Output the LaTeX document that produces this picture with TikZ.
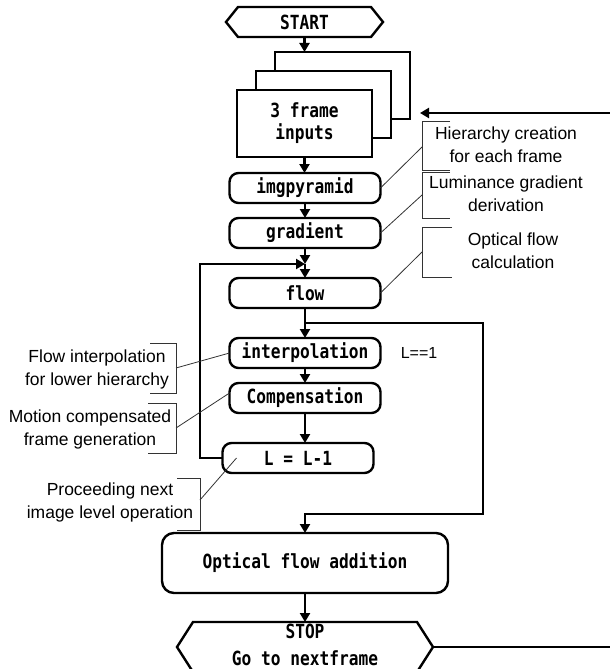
\documentclass[tikz,border=0pt]{standalone}
\usepackage{fontspec}
\setmainfont{Liberation Sans}
\newfontfamily\boxfont{DejaVu Sans Mono}[FakeStretch=0.83]
\usetikzlibrary{arrows.meta,calc}

\begin{document}
\begin{tikzpicture}[x=1pt,y=-1pt,
  flowline/.style={line width=2.4pt},
  arr/.style={flowline,-{Triangle[length=9pt,width=10pt]}},
  monotext/.style={font={\boxfont\bfseries\fontsize{19.5}{22}\selectfont},align=center,inner sep=0pt,outer sep=0pt},
  procbox/.style={monotext,draw,line width=2.4pt,rounded corners=9pt,minimum width=151pt,minimum height=30pt},
  framebox/.style={monotext,draw,fill=white,line width=2.4pt,minimum width=135pt,minimum height=67pt},
  note/.style={font={\fontsize{17.5}{23}\selectfont},align=center,inner sep=0pt},
  leader/.style={line width=0.8pt,black!80},
]
\useasboundingbox (0,0) rectangle (610,669);

% terminal: START
\node[monotext,minimum width=157pt,minimum height=30pt] (start) at (304.5,22) {START};
\draw[flowline] (start.west) -- ([xshift=12pt]start.north west) -- ([xshift=-12pt]start.north east)
  -- (start.east) -- ([xshift=-12pt]start.south east) -- ([xshift=12pt]start.south west) -- cycle;

% stacked input frames
\node[framebox] (back) at (342.5,85.5) {};
\node[framebox] (mid) at (323.5,104.5) {};
\node[framebox] (frames) at (304.5,123.5) {3 frame\\inputs};

% processing steps
\node[procbox] (imgpyr) at (305,188) {imgpyramid};
\node[procbox] (grad) at (305,233) {gradient};
\node[procbox] (flow) at (305,293) {flow};
\node[procbox] (interp) at (305,353) {interpolation};
\node[procbox] (comp) at (305,398) {Compensation};
\node[procbox] (lmin) at (298,458) {L = L-1};
\node[procbox,minimum width=286pt,minimum height=60pt,rounded corners=12pt] (add) at (305,563) {Optical flow addition};

% terminal: STOP (outline runs past the lower edge)
\node[minimum width=256pt,minimum height=50pt,inner sep=0pt,outer sep=0pt] (stop) at (305,647) {};
\draw[flowline] (stop.west) -- ([xshift=16pt]stop.north west) -- ([xshift=-16pt]stop.north east)
  -- (stop.east) -- ([xshift=-16pt]stop.south east) -- ([xshift=16pt]stop.south west) -- cycle;
\node[monotext,anchor=base] (stoptxt) at (305,638.5) {STOP};
\node[monotext,anchor=base] (nexttxt) at (305,665) {Go to nextframe};

% routing points
\coordinate (merge) at (305,264);
\coordinate (loopx) at (200,264);
\coordinate (split) at (305,323);
\coordinate (bend) at (483,323);
\coordinate (join) at (305,514);
\coordinate (edgelow) at (612,647);
\coordinate (edgetop) at (612,113);

% main flow
\draw[arr] (start.south) -- (start.south |- back.north);
\draw[arr] (frames.south) -- (frames.south |- imgpyr.north);
\draw[arr] (imgpyr) -- (grad);
\draw[arr] (grad) -- (merge);
\draw[arr] (merge) -- (flow);
\draw[arr] (flow) -- (interp);
\draw[arr] (interp) -- (comp);
\draw[arr] (comp.south) -- (comp.south |- lmin.north);
\draw[arr] (lmin.west) -| (loopx) -- (merge);
\draw[arr] (split) -- (bend) |- (join) -- (add.north);
\draw[arr] (add) -- (stop.north);
\draw[flowline] (stop.east) -- (edgelow);
\draw[arr,shorten >=10pt] (edgetop) -- (back.east |- edgetop);

\node[font={\fontsize{16}{19}\selectfont},inner sep=0pt] (lcond) at (419,353) {L==1};

% annotations: brackets
\draw[leader] (450,121) -- (422,121) -- (422,170) -- (450,170);
\draw[leader] (450,172) -- (422,172) -- (422,218) -- (450,218);
\draw[leader] (452,227) -- (422,227) -- (422,277) -- (452,277);
\draw[leader] (150,343) -- (176,343) -- (176,393) -- (150,393);
\draw[leader] (148,403) -- (176,403) -- (176,453) -- (148,453);
\draw[leader] (177,478) -- (200,478) -- (200,530) -- (177,530);

\coordinate (b1) at (422,147);
\coordinate (b2) at (422,195);
\coordinate (b3) at (422,252);
\coordinate (b4) at (176,368);
\coordinate (b5) at (176,428);
\coordinate (b6) at (200,500);

\draw[leader] (imgpyr.east) -- (b1);
\draw[leader] (grad.east) -- (b2);
\draw[leader] (flow.east) -- (b3);
\draw[leader] (interp.west) -- (b4);
\draw[leader] ([yshift=5pt]comp.west) -- (b5);
\draw[leader] ([xshift=14pt]lmin.west) -- (b6);

\node[note] (n1) at (506,145) {Hierarchy creation\\for each frame};
\node[note] (n2) at (506,193.5) {Luminance gradient\\derivation};
\node[note] (n3) at (513,251) {Optical flow\\calculation};
\node[note] (n4) at (97,369) {Flow interpolation\\for lower hierarchy};
\node[note] (n5) at (90,429) {Motion compensated\\frame generation};
\node[note] (n6) at (110,502.5) {Proceeding next\\image level operation};
\end{tikzpicture}
\end{document}
